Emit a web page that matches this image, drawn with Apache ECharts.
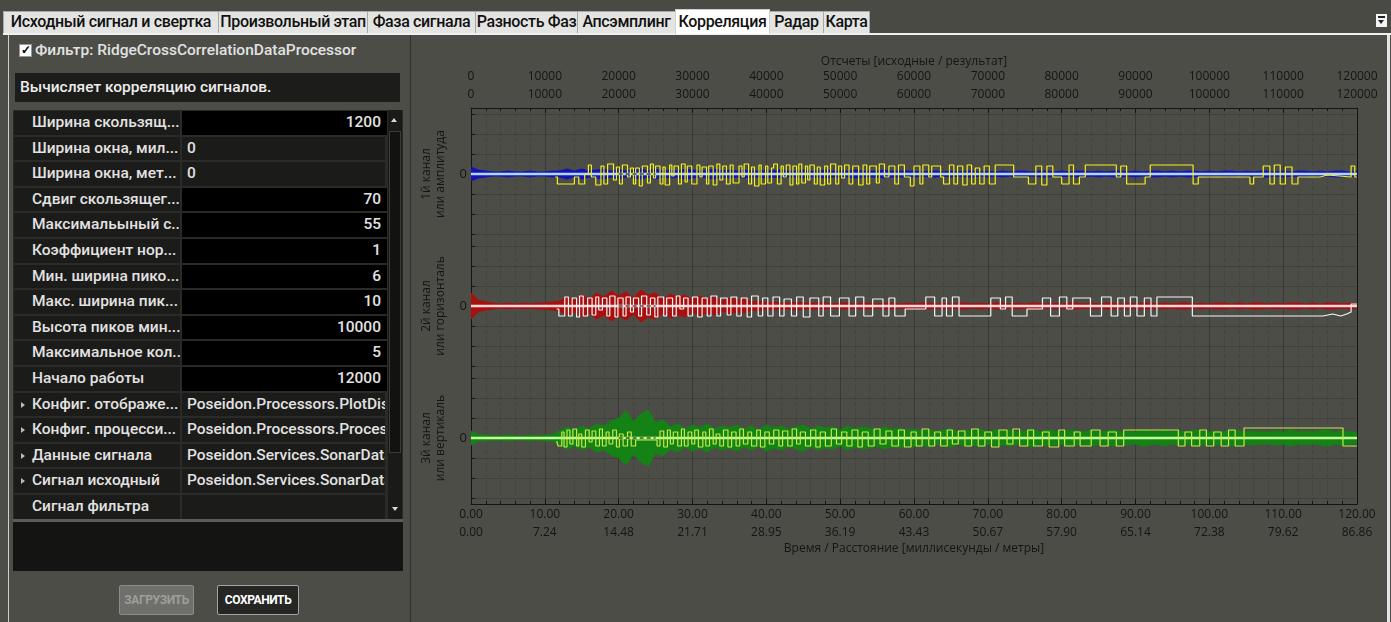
<!DOCTYPE html>
<html lang="ru">
<head>
<meta charset="utf-8">
<title>Корреляция</title>
<script src="https://cdn.jsdelivr.net/npm/echarts@6.0.0/dist/echarts.min.js"></script>
<style>
  html, body { margin: 0; padding: 0; }
  body { width: 1391px; height: 622px; overflow: hidden; position: relative; background: #4d4d48;
         font-family: Roboto, "Noto Sans", sans-serif; }
  .abs { position: absolute; }
  #tabstrip { left: 0; top: 0; width: 1391px; height: 34px; background: #4a4a45; }
  .tab { position: absolute; top: 11px; height: 22px; box-sizing: border-box; background: #e4e4e2;
         border: 1px solid #a8a8a8; border-bottom: none; color: #111; font-size: 16px; font-weight: 500;
         line-height: 20px; text-align: center; white-space: nowrap; overflow: hidden; letter-spacing: -0.35px; }
  .tab.sel { top: 9px; height: 25px; background: #fff; border-color: #d0d0d0; line-height: 23px; z-index: 2; }
  #tabline { left: 3px; top: 33px; width: 1388px; height: 2px; background: #f0f0f0; }
  #menuBtn { left: 1376px; top: 14px; width: 11px; height: 13px; background: #f4f4f4; }
  #menuBtn .bar { position: absolute; left: 2px; top: 2px; width: 7px; height: 2px; background: #222; }
  #menuBtn .tri { position: absolute; left: 2px; top: 6px; width: 0; height: 0;
                  border-left: 3.5px solid transparent; border-right: 3.5px solid transparent; border-top: 4px solid #222; }
  #leftEdge { left: 8px; top: 35px; width: 1px; height: 587px; background: #cfcfcf; }
  #rightEdge { left: 1387px; top: 35px; width: 3px; height: 587px; background: #e4e4e4; }
  #splitEdge { left: 410px; top: 35px; width: 1px; height: 587px; background: #2f2f2c; }

  .lbl { color: #e2e2e2; font-size: 15.5px; font-weight: 500; white-space: nowrap; }
  #chk { left: 19px; top: 44px; width: 13px; height: 13px; background: #fff; box-sizing: border-box;
         border: 1px solid #999; color: #000; font-size: 12px; line-height: 11px; text-align: center; font-weight: 700; }
  #hdr { left: 35px; top: 41px; line-height: 18px; }
  #desc { left: 15px; top: 73px; width: 385px; height: 29px; background: #1c1c1a; line-height: 29px;
          padding-left: 5px; box-sizing: border-box; color: #ececec; font-size: 15.5px; font-weight: 500; }
  #grid { left: 13px; top: 110px; width: 390px; height: 410px; background: #2a2a28; overflow: hidden; }
  .cell { position: absolute; box-sizing: border-box; color: #e2e2e2; font-size: 15.5px; font-weight: 500;
          white-space: nowrap; overflow: hidden; }
  #scroll { left: 388px; top: 110px; width: 14px; height: 410px; background: #1a1a18; }
  #thumb { left: 389px; top: 131px; width: 12px; height: 322px; background: #121210; box-sizing: border-box;
           border: 1px solid #3a3a37; }
  .arrowUp { position: absolute; width: 0; height: 0; border-left: 3.5px solid transparent;
             border-right: 3.5px solid transparent; border-bottom: 4px solid #d8d8d8; }
  .arrowDn { position: absolute; width: 0; height: 0; border-left: 3.5px solid transparent;
             border-right: 3.5px solid transparent; border-top: 4px solid #d8d8d8; }
  #sep { left: 13px; top: 519px; width: 390px; height: 3px; background: #5c5c58; }
  #blackArea { left: 13px; top: 522px; width: 390px; height: 49px; background: #141412; }
  .btn { position: absolute; top: 585px; height: 30px; box-sizing: border-box; border-radius: 2px;
         font-size: 12px; font-weight: 700; line-height: 28px; text-align: center; letter-spacing: -0.4px; }
  #btnLoad { left: 119px; width: 75px; background: #6f6f6b; border: 1px solid #8c8c88; color: #9e9e9a; }
  #btnSave { left: 217px; width: 82px; background: #262624; border: 1px solid #a4a4a0; color: #fff; }
  #chart { left: 411px; top: 36px; width: 976px; height: 586px; }
</style>
</head>
<body>
<div id="tabstrip" class="abs"></div>
<div id="tabs"></div>
<div id="tabline" class="abs"></div>
<div id="menuBtn" class="abs"><div class="bar"></div><div class="tri"></div></div>
<div id="leftEdge" class="abs"></div>
<div id="splitEdge" class="abs"></div>
<div id="rightEdge" class="abs"></div>

<div id="chk" class="abs">✓</div>
<div id="hdr" class="abs lbl">Фильтр: RidgeCrossCorrelationDataProcessor</div>
<div id="desc" class="abs">Вычисляет корреляцию сигналов.</div>
<div id="grid" class="abs"></div>
<div id="scroll" class="abs"></div>
<div id="thumb" class="abs"></div>
<div class="arrowUp" style="left:391px;top:118px;"></div>
<div class="arrowDn" style="left:392px;top:507px;"></div>
<div id="sep" class="abs"></div>
<div id="blackArea" class="abs"></div>
<div id="btnLoad" class="btn">ЗАГРУЗИТЬ</div>
<div id="btnSave" class="btn">СОХРАНИТЬ</div>

<div id="chart" class="abs"></div>

<script>
// ---- Tabs ----
const tabNames = ['Исходный сигнал и свертка', 'Произвольный этап', 'Фаза сигнала', 'Разность Фаз',
                  'Апсэмплинг', 'Корреляция', 'Радар', 'Карта'];
const tabEdges = [3, 218, 367, 475, 577, 675, 769, 823, 869];
const activeTab = 5;

// ---- Property grid ----
const propNames = ['Ширина скользящ...', 'Ширина окна, мил...', 'Ширина окна, мет...', 'Сдвиг скользящег...',
  'Максимальыный с...', 'Коэффициент нор...', 'Мин. ширина пико...', 'Макс. ширина пик...',
  'Высота пиков мин...', 'Максимальное кол...', 'Начало работы', 'Конфиг. отображе...',
  'Конфиг. процесси...', 'Данные сигнала', 'Сигнал исходный', 'Сигнал фильтра'];
const propValues = ['1200', '0', '0', '70', '55', '1', '6', '10', '10000', '5', '12000',
  'Poseidon.Processors.PlotDisplayConfig', 'Poseidon.Processors.ProcessingConfig',
  'Poseidon.Services.SonarData', 'Poseidon.Services.SonarData', ''];
// 'n' = editable number, 't' = read-only text, 'o' = expandable object
const propKinds = ['n', 't', 't', 'n', 'n', 'n', 'n', 'n', 'n', 'n', 'n', 'o', 'o', 'o', 'o', 't'];

// ---- Chart data ----
// sample axis (top) and time / distance axis (bottom)
const sampleTicks = ['0', '10000', '20000', '30000', '40000', '50000', '60000', '70000', '80000',
                     '90000', '100000', '110000', '120000'];
const msTicks = ['0.00', '10.00', '20.00', '30.00', '40.00', '50.00', '60.00', '70.00', '80.00',
                 '90.00', '100.00', '110.00', '120.00'];
const meterTicks = ['0.00', '7.24', '14.48', '21.71', '28.95', '36.19', '43.43', '50.67', '57.90',
                    '65.14', '72.38', '79.62', '86.86'];
const channelNames = ['1й канал\nили амплитуда', '2й канал\nили горизонталь', '3й канал\nили вертикаль'];

// raw signal envelopes, one value per 1000 samples
const envStep = 1000;
const rawCh1 = [7,4,3,2,2,3,2,2,3,2,2,3, 3,5,3,5,3,4,5,3,5,3,4,5, 3,5,3,4,3,5,4,3,4,5,3,4,
  3,4,3,3,4,3,4,3,3,4,3,3, 4,3,3,3,4,3,3,3,4,3,3,3, 3,2,3,3,2,3,2,3,3,2,3,2,
  3,2,3,3,2,3,3,2,3,2,3,3, 2,3,2,3,3,2,3,2,3,3,2,3, 2,3,3,2,3,2,3,3,2,3,2,3,
  3,2,3,2,3,3,2,3,2,3,3,2, 3];
const rawCh2 = [13,6,4,3,2,3,2,3,2,3,3,4, 5,9,6,11,7,13,9,15,10,14,8,16, 11,13,7,12,9,11,6,10,7,9,5,8,
  6,7,4,5,3,4,3,3,4,3,3,3, 3,2,3,3,2,3,3,2,3,3,2,3, 2,3,3,2,3,2,3,3,2,3,2,3,
  3,2,3,2,3,3,2,3,2,3,3,2, 3,2,3,3,2,3,2,3,3,2,3,2, 3,3,2,3,2,3,3,2,3,2,3,3,
  2,3,2,3,3,2,3,2,3,3,2,3, 2];
const rawCh3 = [7,3,3,2,2,3,2,2,3,2,3,3, 7,11,8,12,9,14,12,17,20,27,16,24, 28,15,18,11,14,9,13,10,14,9,12,10,
  13,9,12,8,13,10,12,9,11,13,9,12, 10,11,8,12,9,11,10,8,11,9,10,8, 9,7,9,6,8,9,6,8,7,9,6,8,
  7,8,6,7,9,6,8,7,6,8,7,6, 8,6,7,8,6,7,6,8,7,6,8,6, 7,6,8,7,6,7,6,8,7,6,7,6,
  6,7,6,8,6,7,6,7,8,6,7,6, 6];

// correlation output: [sample where the level starts, level]
const corrCh1 = [[11400,-3],[11700,-10],[14000,-3],[14600,-10],[15400,0],[15900,9],[16300,-3],[16900,-11],
  [17600,8],[18000,-10],[18500,10],[19300,-6],[19700,7],[20100,-10],[20500,9],[21200,-3],[21600,6],[22000,-10],
  [22300,6],[22800,-12],[23200,8],[23900,-9],[24300,10],[24700,-4],[25000,8],[25600,-10],[26000,7],[26300,-11],
  [26900,9],[27200,-2],[27500,8],[28100,-10],[28500,10],[29000,-8],[29300,8],[29900,-10],[30600,9],[31000,-3],
  [31300,7],[31900,-10],[32200,8],[32800,-11],[33300,10],[33700,-6],[34100,8],[34600,-10],[35100,9],[35500,-9],
  [36300,8],[36700,-3],[37000,10],[37600,-10],[38000,7],[38400,-12],[39000,9],[39300,-10],[39900,8],[40200,-9],
  [40700,6],[41000,10],[41500,-10],[42000,8],[42300,-3],[42700,9],[43200,-11],[43600,8],[44100,-10],[44400,10],
  [44800,-9],[45300,8],[45600,-6],[45900,9],[46500,-10],[46900,7],[47300,-11],[47900,8],[48300,-10],[48700,10],
  [49400,-10],[49800,8],[50200,-4],[50600,9],[51200,-10],[51700,8],[52500,-11],[53100,9],[53600,-10],[54000,8],
  [54900,-9],[55300,10],[56000,-3],[56600,8],[57400,-10],[57900,9],[58700,-3],[59500,-12],[60000,8],[60800,-10],
  [61200,9],[62000,-3],[62400,8],[63600,-3],[64000,-10],[64800,9],[65400,-10],[65900,8],[66600,-11],[67200,9],
  [67800,-10],[68300,6],[68900,-10],[69500,8],[70200,-10],[71000,9],[73500,-3],[75500,-10],[76500,8],[77300,-11],
  [78000,8],[78800,-3],[80000,-10],[81000,9],[81600,-10],[82400,-3],[83200,9],[87400,-3],[88000,8],[88800,-10],
  [91300,-3],[92000,9],[97800,-10],[98500,-3],[105500,-10],[106000,-3],[107300,8],[108200,-10],[108800,9],
  [109600,-10],[110300,7],[111200,-10],[112000,-3],[115000,-1],[116000,-3],[119200,8],[119700,-3],[120000,-3]];
const corrCh2 = [[11600,-3],[11900,-10],[12700,9],[13200,-10],[13700,8],[14300,-11],[14700,10],[15200,-10],
  [15800,8],[16400,-9],[16900,9],[17300,-4],[17800,8],[18400,-10],[18800,10],[19500,-11],[19900,8],[20600,-10],
  [21000,9],[21600,-6],[22000,8],[22700,-10],[23100,10],[23800,-9],[24300,8],[24900,-11],[25300,9],[26100,-10],
  [26500,8],[27300,-10],[27800,10],[28300,-3],[28800,8],[29400,-10],[30000,9],[30700,-11],[31300,8],[32000,-10],
  [32500,10],[33300,-10],[33800,8],[34700,-9],[35200,9],[36000,-10],[36600,8],[37400,-11],[38000,10],[38900,-10],
  [39500,8],[40200,-10],[40900,9],[41800,-10],[42400,7],[43400,-10],[44100,9],[45000,-11],[45900,8],[47100,-10],
  [47700,9],[48700,-10],[49900,8],[51200,-10],[52100,9],[53200,-10],[54400,7],[55800,-10],[56600,8],[57400,-10],
  [58800,-3],[61600,9],[62800,-10],[63800,8],[64400,-10],[65200,9],[66100,-10],[70400,8],[71700,-3],[72400,9],
  [73300,-10],[75300,-3],[77400,8],[78500,-10],[79700,9],[80700,-3],[81500,8],[83900,-10],[85400,9],[86700,-10],
  [87600,8],[88500,-10],[89300,9],[90200,-10],[91200,8],[92100,-10],[92900,9],[97700,-10],[115000,-10],
  [115400,-8],[116700,-10],[117800,-8],[118600,-6],[119200,2],[120000,2]];
const corrCh3 = [[11600,-3],[11800,-8],[12300,6],[12600,-9],[13000,8],[13400,-6],[13800,9],[14300,-8],
  [14600,4],[15000,-9],[15500,8],[16000,-4],[16400,7],[16900,-8],[17400,9],[17800,-8],[18300,6],[18700,-6],
  [19200,8],[19700,-9],[20100,4],[20600,-8],[21200,6],[21700,-8],[22300,-2],[25200,-8],[25600,7],[26100,-9],
  [26600,8],[27000,-6],[27400,6],[28000,-8],[28500,9],[28900,-8],[29400,6],[29900,-6],[30300,8],[30800,-9],
  [31400,6],[31800,-8],[32300,9],[32800,-6],[33200,4],[33700,-8],[34200,8],[34800,-9],[35300,6],[35900,-8],
  [36400,9],[36900,-6],[37500,6],[38000,-8],[38700,8],[39200,-9],[39800,6],[40400,-6],[41000,8],[41700,-8],
  [42200,7],[42900,-8],[43500,9],[44100,-6],[44600,6],[45300,-8],[46000,8],[46700,-9],[47300,6],[48000,-8],
  [48800,9],[49500,-6],[50200,6],[50900,-8],[51600,8],[52400,-9],[53000,6],[53800,-8],[54600,9],[55400,-6],
  [56200,7],[57000,-8],[57900,8],[58700,-9],[59600,6],[60300,-8],[61100,9],[62000,-8],[62800,6],[63600,-8],
  [64500,8],[65200,-6],[66000,7],[66900,-8],[67800,9],[68700,-8],[69600,6],[70500,-9],[71500,8],[72600,-6],
  [73400,9],[74300,-8],[75400,8],[76200,-8],[77400,6],[78300,-9],[79600,8],[80400,-8],[81700,6],[82500,-8],
  [84000,8],[85200,-8],[86300,6],[87400,-8],[88400,8],[95800,-8],[96700,6],[97600,-8],[98700,8],[99600,-8],
  [100600,6],[101600,-8],[102600,8],[103500,-8],[104700,10],[118100,-8],[120000,-8]];
// reference marker segment on each channel
const markerSpan = [20000, 25000];

// ---- build tabs ----
const tabsEl = document.getElementById('tabs');
tabNames.forEach((name, i) => {
  const d = document.createElement('div');
  d.className = 'tab' + (i === activeTab ? ' sel' : '');
  d.style.left = tabEdges[i] + 'px';
  d.style.width = (tabEdges[i + 1] - tabEdges[i] + 1) + 'px';
  d.textContent = name;
  tabsEl.appendChild(d);
});

// ---- build property grid ----
const gridEl = document.getElementById('grid');
const rowH = 25.6;
propNames.forEach((name, i) => {
  const top = i * rowH + 1;
  const n = document.createElement('div');
  n.className = 'cell';
  Object.assign(n.style, { left: '1px', top: top + 'px', width: '166px', height: (rowH - 2) + 'px',
    lineHeight: (rowH - 2) + 'px', background: '#1b1b19', paddingLeft: '18px' });
  n.textContent = name;
  if (propKinds[i] === 'o') {
    const a = document.createElement('span');
    Object.assign(a.style, { position: 'absolute', left: '7px', top: '9px', width: 0, height: 0,
      borderTop: '3px solid transparent', borderBottom: '3px solid transparent', borderLeft: '4px solid #bbb' });
    n.appendChild(a);
  }
  gridEl.appendChild(n);
  const v = document.createElement('div');
  v.className = 'cell';
  const editable = propKinds[i] === 'n';
  Object.assign(v.style, { left: '169px', top: top + 'px', width: editable ? '205px' : '203px',
    height: (rowH - 2) + 'px', lineHeight: (rowH - 2) + 'px', background: editable ? '#000' : '#1b1b19',
    textAlign: editable ? 'right' : 'left', padding: editable ? '0 6px 0 0' : '0 0 0 5px' });
  v.textContent = propValues[i];
  gridEl.appendChild(v);
});

// ---- chart ----
const AXIS_COLOR = '#141414';
const FONT = '"Open Sans", "DejaVu Sans", sans-serif';
const Y_HALF = 66;
const rawColors = ['#1414b4', '#a81010', '#148214'];
const baseColors = ['#b0d6fc', '#ffd6d6', '#bfff96'];
const corrColors = ['#f2f21e', '#f4f4f4', '#c2ea48'];
const raws = [rawCh1, rawCh2, rawCh3];
const corrs = [corrCh1, corrCh2, corrCh3];

const tickIndex = v => Math.round(v / 10000);

const grids = [0, 1, 2].map(i => ({ left: 60, right: 30, top: 72 + 132 * i, height: 132 }));

const xAxes = [0, 1, 2].map(i => {
  const isTop = i === 0, isBottom = i === 2, edge = isTop || isBottom;
  return {
    gridIndex: i, type: 'value', min: 0, max: 120000, interval: 10000,
    position: isTop ? 'top' : 'bottom',
    name: isTop ? 'Отсчеты [исходные / результат]' : (isBottom ? 'Время / Расстояние [миллисекунды / метры]' : ''),
    nameLocation: 'middle', nameGap: isTop ? 40 : 37,
    nameTextStyle: { color: AXIS_COLOR, fontSize: 12, fontFamily: FONT },
    axisLine: { show: edge, onZero: false, lineStyle: { color: AXIS_COLOR, width: 1 } },
    axisTick: { show: edge, inside: true, length: 5, lineStyle: { color: AXIS_COLOR } },
    minorTick: { show: edge, splitNumber: 5, length: 3, lineStyle: { color: AXIS_COLOR } },
    axisLabel: {
      show: edge, color: AXIS_COLOR, fontSize: 12, fontFamily: FONT, lineHeight: 18, margin: isTop ? 4 : 2,
      formatter: v => {
        const k = tickIndex(v);
        return isTop ? sampleTicks[k] + '\n' + sampleTicks[k] : msTicks[k] + '\n' + meterTicks[k];
      }
    },
    splitLine: { show: true, lineStyle: { color: 'rgba(0,0,0,0.26)', width: 1 } },
    minorSplitLine: { show: true, lineStyle: { color: 'rgba(0,0,0,0.10)', width: 1, type: 'dashed' } }
  };
});

const yAxes = [];
[0, 1, 2].forEach(i => {
  yAxes.push({
    gridIndex: i, type: 'value', min: -Y_HALF, max: Y_HALF, position: 'left',
    name: channelNames[i], nameLocation: 'middle', nameRotate: 90, nameGap: 23,
    nameTextStyle: { color: AXIS_COLOR, fontSize: 12, fontFamily: FONT, lineHeight: 14 },
    axisLine: { show: true, onZero: false, lineStyle: { color: AXIS_COLOR } },
    axisTick: { show: true, inside: true, length: 4, customValues: [-60, -40, -20, 0, 20, 40, 60],
                lineStyle: { color: AXIS_COLOR } },
    axisLabel: { show: true, customValues: [0], formatter: () => '0', color: AXIS_COLOR, fontSize: 13,
                 fontFamily: FONT, margin: 4 },
    splitLine: { show: true, lineStyle: { color: 'rgba(0,0,0,0.16)', width: 1 } }
  });
});
[0, 1, 2].forEach(i => {
  yAxes.push({
    gridIndex: i, type: 'value', min: -Y_HALF, max: Y_HALF, position: 'right',
    axisLine: { show: true, onZero: false, lineStyle: { color: AXIS_COLOR } },
    axisTick: { show: false }, axisLabel: { show: false }, splitLine: { show: false }
  });
});

const series = [];
[0, 1, 2].forEach(i => {
  const common = { type: 'line', xAxisIndex: i, yAxisIndex: i, showSymbol: false, symbol: 'none',
                   silent: true, animation: false };
  // raw signal envelope, drawn as a filled band
  series.push(Object.assign({}, common, {
    data: raws[i].map((a, k) => [k * envStep, a]),
    lineStyle: { color: rawColors[i], width: 1 }, areaStyle: { color: rawColors[i], opacity: 1 }
  }));
  series.push(Object.assign({}, common, {
    data: raws[i].map((a, k) => [k * envStep, -a]),
    lineStyle: { color: rawColors[i], width: 1 }, areaStyle: { color: rawColors[i], opacity: 1 }
  }));
  // zero reference line of the channel
  series.push(Object.assign({}, common, {
    data: [[0, 0], [120000, 0]], lineStyle: { color: baseColors[i], width: 2.5 }
  }));
  // correlation output (piecewise constant)
  series.push(Object.assign({}, common, {
    data: corrs[i], step: 'end', lineStyle: { color: corrColors[i], width: 1.2 }
  }));
  // marker segment
  series.push(Object.assign({}, common, {
    data: [[markerSpan[0], 0], [markerSpan[1], 0]],
    lineStyle: { color: '#000', width: 1.2, type: [4, 3] }
  }));
});

const chart = echarts.init(document.getElementById('chart'), null, { renderer: 'canvas' });
chart.setOption({
  backgroundColor: '#4d4d48',
  animation: false,
  grid: grids,
  xAxis: xAxes,
  yAxis: yAxes,
  series: series
});
</script>
</body>
</html>
